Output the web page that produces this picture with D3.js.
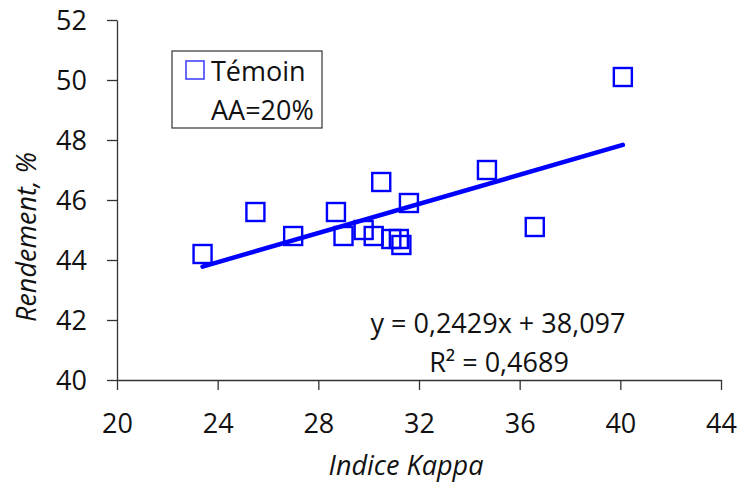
<!DOCTYPE html>
<html>
<head>
<meta charset="utf-8">
<script src="https://cdn.jsdelivr.net/npm/d3@7"></script>
<style>
  html, body { margin: 0; padding: 0; background: #fff; }
  svg text { font-family: "Open Sans", "Liberation Sans", sans-serif; fill: #111; }
</style>
</head>
<body>
<svg id="chart" width="739" height="483"></svg>
<script>
// Kappa index vs. yield (Témoin, AA=20%)
const kappa    = [23.4, 25.5, 27.0, 28.7, 29.0, 29.8, 30.2, 30.5, 30.9, 31.2, 31.3, 31.6, 34.7, 36.6, 40.1];
const rendement = [44.2, 45.6, 44.8, 45.6, 44.8, 45.0, 44.8, 46.6, 44.7, 44.7, 44.5, 45.9, 47.0, 45.1, 50.1];
const xTicks = [20, 24, 28, 32, 36, 40, 44];
const yTicks = [40, 42, 44, 46, 48, 50, 52];
const slope = 0.2429, intercept = 38.097, r2 = 0.4689;
const seriesLabel = "Témoin";
const seriesNote = "AA=20%";

const svg = d3.select("#chart");
const x = d3.scaleLinear().domain([20, 44]).range([117, 721]);
const y = d3.scaleLinear().domain([40, 52]).range([380, 20]);
const blue = "#0000ff";
const fs = 27;

// axes
const xAxis = svg.append("g").attr("transform", `translate(0,${y(40)})`)
  .call(d3.axisBottom(x).tickValues(xTicks).tickSize(10).tickPadding(24).tickSizeOuter(0));
const yAxis = svg.append("g").attr("transform", `translate(${x(20)},0)`)
  .call(d3.axisLeft(y).tickValues(yTicks).tickSize(10).tickPadding(20).tickSizeOuter(0));
[xAxis, yAxis].forEach(g => {
  g.select(".domain").attr("stroke", "#333").attr("stroke-width", 1.3);
  g.selectAll(".tick line").attr("stroke", "#333").attr("stroke-width", 1.3);
  g.selectAll(".tick text").attr("font-size", 27).attr("fill", "#111")
    .style("font-family", '"Open Sans", sans-serif');
});
xAxis.selectAll(".tick text").attr("dy", 0).attr("y", 53);
yAxis.selectAll(".tick text").attr("dy", "0.36em");

// axis titles
svg.append("text").attr("x", 406).attr("y", 475)
  .attr("text-anchor", "middle").attr("font-size", fs).attr("font-style", "italic")
  .text("Indice Kappa");
svg.append("text")
  .attr("transform", `translate(36,237) rotate(-90)`)
  .attr("text-anchor", "middle").attr("font-size", fs).attr("font-style", "italic")
  .text("Rendement, %");

// trend line
const xMin = d3.min(kappa), xMax = d3.max(kappa);
svg.append("line")
  .attr("x1", x(xMin)).attr("y1", y(slope * xMin + intercept))
  .attr("x2", x(xMax)).attr("y2", y(slope * xMax + intercept))
  .attr("stroke", blue).attr("stroke-width", 4.5).attr("stroke-linecap", "round");

// markers
const s = 18;
svg.append("g").selectAll("rect").data(kappa.map((k, i) => [k, rendement[i]]))
  .join("rect")
  .attr("x", d => x(d[0]) - s / 2).attr("y", d => y(d[1]) - s / 2)
  .attr("width", s).attr("height", s)
  .attr("fill", "none").attr("stroke", blue).attr("stroke-width", 2.4);

// regression labels
const fmt = v => String(v).replace(".", ",");
svg.append("text").attr("x", 498).attr("y", 333).attr("text-anchor", "middle")
  .attr("font-size", fs).text(`y = ${fmt(slope)}x + ${fmt(intercept.toFixed(3))}`);
svg.append("text").attr("x", 499).attr("y", 372).attr("text-anchor", "middle")
  .attr("font-size", fs).text(`R² = ${fmt(r2)}`);

// legend
const lg = svg.append("g");
lg.append("rect").attr("x", 172).attr("y", 51).attr("width", 150).attr("height", 77)
  .attr("fill", "#fff").attr("stroke", "#333").attr("stroke-width", 1.2);
lg.append("rect").attr("x", 186).attr("y", 61).attr("width", 18).attr("height", 18)
  .attr("fill", "none").attr("stroke", "#4444ff").attr("stroke-width", 1.6);
lg.append("text").attr("x", 211).attr("y", 81).attr("font-size", fs).text(seriesLabel);
lg.append("text").attr("x", 211).attr("y", 120).attr("font-size", fs).text(seriesNote);
</script>
</body>
</html>
